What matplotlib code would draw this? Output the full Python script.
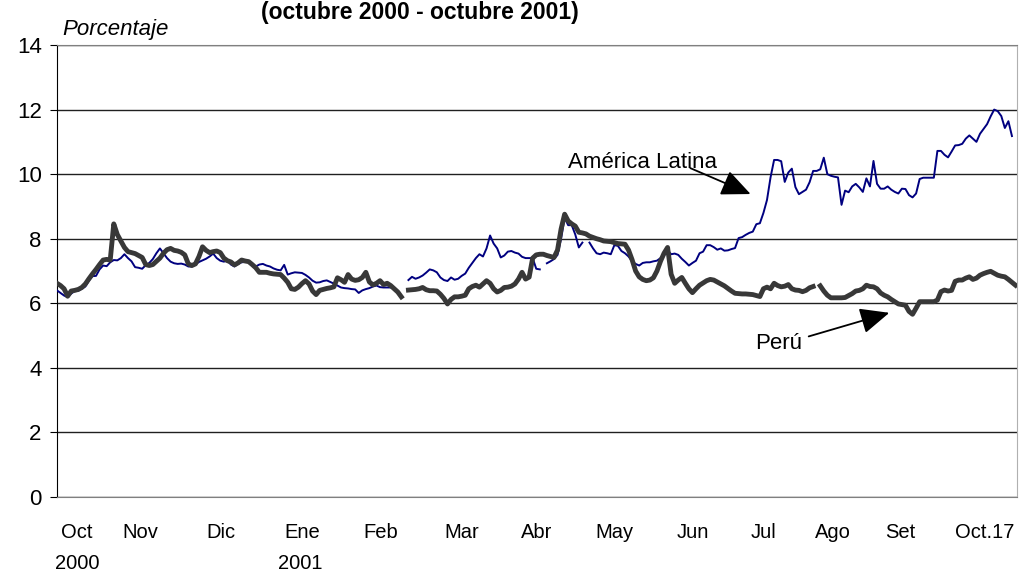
import numpy as np
import matplotlib.pyplot as plt

plt.rcParams['font.family'] = ['Liberation Sans', 'DejaVu Sans']

nan = np.nan

# Tasas diarias (%), dias habiles desde inicios de octubre 2000
peru = [6.62, 6.55, 6.45, 6.22, 6.38, 6.40, 6.43, 6.49, 6.60, 6.76,
        6.91, 7.05, 7.20, 7.34, 7.36, 7.34, 8.46, 8.13, 7.93, 7.73,
        7.60, 7.57, 7.54, 7.48, 7.42, 7.20, 7.17, 7.20, 7.30, 7.40,
        7.55, 7.66, 7.70, 7.64, 7.62, 7.58, 7.50, 7.22, 7.17, 7.22,
        7.45, 7.75, 7.64, 7.57, 7.60, 7.62, 7.57, 7.40, 7.32, 7.28,
        7.19, 7.25, 7.34, 7.31, 7.29, 7.20, 7.10, 6.96, 6.96, 6.96,
        6.93, 6.91, 6.90, 6.89, 6.78, 6.65, 6.45, 6.43, 6.50, 6.61,
        6.70, 6.60, 6.38, 6.27, 6.40, 6.43, 6.46, 6.48, 6.51, 6.79,
        6.73, 6.65, 6.89, 6.75, 6.71, 6.73, 6.80, 6.96, 6.66, 6.57,
        6.62, 6.70, 6.58, 6.62, 6.55, 6.45, 6.35, 6.20, nan, 6.41,
        6.42, 6.43, 6.45, 6.49, 6.42, 6.39, 6.39, 6.38, 6.28, 6.15,
        5.98, 6.12, 6.20, 6.20, 6.22, 6.25, 6.45, 6.52, 6.56, 6.50,
        6.60, 6.70, 6.62, 6.45, 6.35, 6.40, 6.49, 6.50, 6.53, 6.60,
        6.75, 6.96, 6.75, 6.81, 7.40, 7.50, 7.52, 7.52, 7.48, 7.45,
        7.42, 7.65, 8.30, 8.76, 8.55, 8.46, 8.39, 8.20, 8.18, 8.15,
        8.08, 8.04, 8.00, 7.97, 7.93, 7.92, 7.91, 7.88, 7.85, 7.84,
        7.83, 7.65, 7.35, 7.00, 6.82, 6.74, 6.70, 6.72, 6.79, 7.00,
        7.30, 7.55, 7.73, 6.90, 6.62, 6.72, 6.80, 6.62, 6.45, 6.33,
        6.45, 6.56, 6.63, 6.70, 6.74, 6.72, 6.66, 6.60, 6.54, 6.46,
        6.38, 6.31, 6.30, 6.29, 6.29, 6.28, 6.27, 6.24, 6.21, 6.45,
        6.50, 6.45, 6.62, 6.55, 6.51, 6.53, 6.58, 6.45, 6.41, 6.40,
        6.36, 6.40, 6.48, 6.52, nan, 6.54, 6.38, 6.25, 6.17, 6.17,
        6.17, 6.17, 6.18, 6.24, 6.30, 6.38, 6.40, 6.45, 6.56, 6.52,
        6.51, 6.45, 6.32, 6.25, 6.20, 6.12, 6.05, 5.98, 5.96, 5.94,
        5.75, 5.66, 5.85, 6.05, 6.05, 6.05, 6.05, 6.05, 6.10, 6.36,
        6.41, 6.38, 6.40, 6.68, 6.72, 6.72, 6.78, 6.82, 6.74, 6.78,
        6.87, 6.92, 6.96, 6.99, 6.93, 6.87, 6.84, 6.82, 6.74, 6.65,
        6.56]

america_latina = [6.40, 6.32, 6.24, 6.19, 6.30, 6.38, 6.39, 6.45, 6.52, 6.70,
                  6.84, 6.85, 7.05, 7.17, 7.15, 7.27, 7.34, 7.33, 7.40, 7.52,
                  7.40, 7.30, 7.12, 7.10, 7.07, 7.18, 7.25, 7.37, 7.55, 7.70,
                  7.55, 7.40, 7.29, 7.24, 7.22, 7.23, 7.20, 7.14, 7.14, 7.20,
                  7.28, 7.33, 7.38, 7.45, 7.54, 7.40, 7.32, 7.29, 7.32, 7.20,
                  7.14, 7.22, 7.27, 7.28, 7.29, 7.20, 7.14, 7.20, 7.22, 7.17,
                  7.14, 7.08, 7.04, 7.02, 7.19, 6.89, 6.93, 6.96, 6.95, 6.94,
                  6.88, 6.80, 6.70, 6.64, 6.65, 6.69, 6.71, 6.66, 6.61, 6.55,
                  6.49, 6.47, 6.46, 6.44, 6.43, 6.32, 6.40, 6.44, 6.47, 6.52,
                  6.55, 6.50, 6.49, 6.49, 6.49, nan, nan, nan, nan, 6.72,
                  6.82, 6.76, 6.80, 6.86, 6.95, 7.05, 7.02, 6.96, 6.80, 6.72,
                  6.69, 6.80, 6.73, 6.76, 6.85, 6.92, 7.10, 7.25, 7.40, 7.52,
                  7.45, 7.70, 8.10, 7.85, 7.70, 7.42, 7.48, 7.60, 7.62, 7.57,
                  7.54, 7.44, 7.40, 7.40, 7.40, 7.07, 7.05, nan, 7.24, 7.30,
                  7.37, 7.50, 8.00, 8.64, 8.42, 8.42, 8.13, 7.73, 7.88, nan,
                  7.88, 7.70, 7.55, 7.52, 7.57, 7.55, 7.52, 7.80, 7.78, 7.62,
                  7.55, 7.45, 7.30, 7.22, 7.17, 7.25, 7.27, 7.27, 7.30, 7.32,
                  7.40, 7.48, 7.64, 7.52, 7.54, 7.50, 7.38, 7.28, 7.17, 7.25,
                  7.32, 7.55, 7.60, 7.80, 7.80, 7.74, 7.66, 7.70, 7.63, 7.64,
                  7.68, 7.71, 8.02, 8.05, 8.12, 8.18, 8.22, 8.45, 8.48, 8.80,
                  9.20, 9.90, 10.44, 10.44, 10.40, 9.76, 10.05, 10.17, 9.60, 9.38,
                  9.45, 9.52, 9.75, 10.10, 10.10, 10.15, 10.51, 10.00, 9.95, 9.92,
                  9.90, 9.05, 9.49, 9.44, 9.62, 9.70, 9.59, 9.45, 9.87, 9.62,
                  10.41, 9.70, 9.55, 9.55, 9.62, 9.52, 9.45, 9.40, 9.55, 9.54,
                  9.35, 9.28, 9.40, 9.85, 9.89, 9.89, 9.89, 9.89, 10.72, 10.72,
                  10.60, 10.52, 10.70, 10.89, 10.90, 10.94, 11.10, 11.20, 11.10, 11.00,
                  11.25, 11.40, 11.55, 11.79, 12.00, 11.95, 11.80, 11.43, 11.64, 11.18]

meses = ['Oct', 'Nov', 'Dic', 'Ene', 'Feb', 'Mar', 'Abr', 'May', 'Jun',
         'Jul', 'Ago', 'Set', 'Oct.17']
anios = ['2000', '2001']

# posicion de las etiquetas (en dias habiles)
pos_meses = [5.6, 23.4, 46.2, 69, 91.3, 114, 135.2, 157, 179, 198.9, 218.6, 237.5, 261.4]
pos_anios = [5.6, 68.5]

fig = plt.figure(figsize=(10.21, 5.72), dpi=100)
ax = fig.add_axes([0.0558, 0.1311, 0.9402, 0.7902])

ax.plot(np.arange(len(america_latina)), america_latina, color='#000080', lw=1.4, zorder=3)
ax.plot(np.arange(len(peru)), peru, color='#383838', lw=3.5, zorder=4)

ax.set_xlim(0, 270.4)
ax.set_ylim(0, 14)
ax.set_yticks(range(0, 15, 2))
ax.tick_params(axis='y', length=5, pad=6, labelsize=16, direction='out')
ax.yaxis.grid(True, color='#202020', lw=1.0)
ax.set_axisbelow(True)

ax.set_xticks(pos_meses)
ax.set_xticklabels(meses, fontsize=14.5)
ax.tick_params(axis='x', length=0, pad=19)
for p, a in zip(pos_anios, anios):
    ax.text(p, -0.146, a, transform=ax.get_xaxis_transform(), ha='center', va='center', fontsize=14.5)

ax.spines['left'].set_color('black')
ax.spines['top'].set_color('#808080')
ax.spines['right'].set_color('#b0b0b0')
ax.spines['bottom'].set_color('#808080')

# Flechas y textos
ax.annotate('', xy=(196.1, 9.35), xytext=(177.7, 10.22),
            arrowprops=dict(arrowstyle='-|>,head_length=0.9,head_width=0.4', mutation_scale=20,
                            color='black', lw=1.3))
ax.text(164.8, 10.37, 'América Latina', ha='center', va='center', fontsize=16)
ax.annotate('', xy=(235.2, 5.73), xytext=(211, 4.95),
            arrowprops=dict(arrowstyle='-|>,head_length=0.9,head_width=0.4', mutation_scale=20,
                            color='black', lw=1.3))
ax.text(203.4, 4.77, 'Perú', ha='center', va='center', fontsize=16)

fig.text(0.0607, 0.948, 'Porcentaje', fontsize=16, style='italic', ha='left', va='center')
fig.text(0.411, 0.978, '(octubre 2000 - octubre 2001)', fontsize=16.5, fontweight='bold',
         ha='center', va='center')

fig.savefig('out.png', dpi=100)
